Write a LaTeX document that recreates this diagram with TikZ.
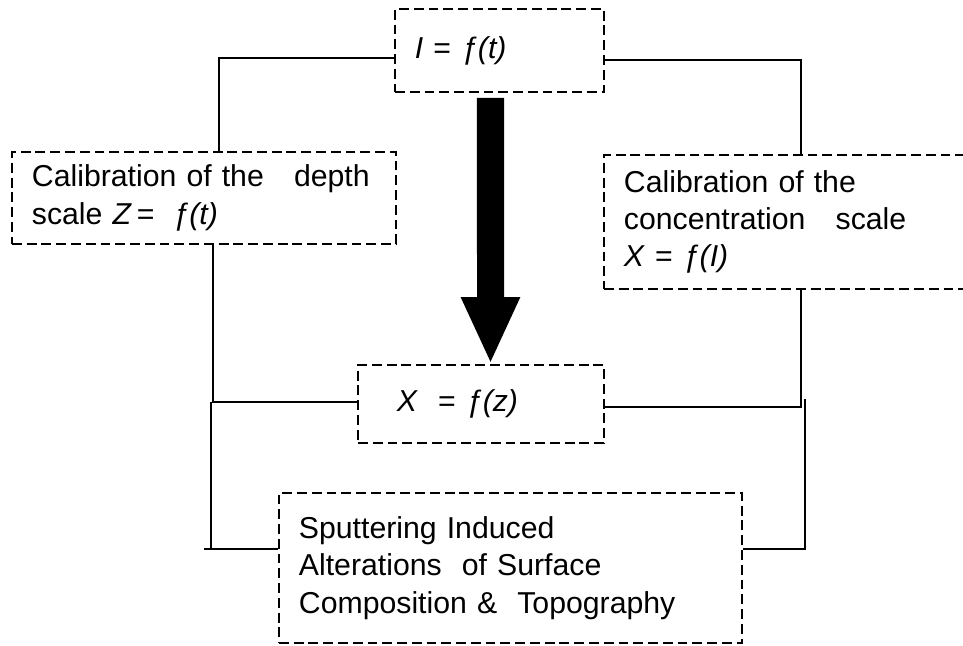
\documentclass[tikz,border=0pt]{standalone}
\usepackage{fontspec}
\setmainfont{Liberation Sans}
\usetikzlibrary{arrows.meta}
\begin{document}
\begin{tikzpicture}[x=0.025cm,y=-0.025cm,
  box/.style={draw,dash pattern=on 7pt off 3.5pt,line width=1.1pt,align=left,
    inner xsep=0.5cm,inner ysep=0pt,font=\fontsize{21.5}{26.5}\selectfont},
  link/.style={line width=1.1pt},
  bigarrow/.style={line width=0.675cm,-{Triangle[length=1.675cm,width=1.35cm]}}]
\clip (0,0) rectangle (963,646);
%boxes
\node[box,text width=4.225cm,minimum height=2.075cm] (rate) at (499.5,50.5) {\textit{I} = \textit{ƒ(t)}};
\node[box,text width=8.6cm,minimum height=2.3cm] (depth) at (204,198) {Calibration of the\ \ \ depth\\scale \textit{Z}\,=\hspace{0.45cm}\textit{ƒ(t)}};
\node[box,text width=8.85cm,minimum height=3.35cm] (conc) at (801,222) {Calibration of the\\concentration\ \ \ scale\\\textit{X} = \textit{ƒ(I)}};
\node[box,text width=5.15cm,minimum height=1.95cm] (prof) at (481,404) {\hspace*{0.475cm}\textit{X}\ \ = \textit{ƒ(z)}};
\node[box,text width=10.575cm,minimum height=3.75cm] (sput) at (510.5,568) {Sputtering Induced\\Alterations\ \ of Surface\\Composition \&\ \ Topography};
%links
\draw[link] ([yshift=-0.19cm]rate.west) -| ([xshift=0.375cm]depth.north);
\draw[link] ([yshift=-0.24cm]rate.east) -| (conc.north);
\draw[link] ([xshift=0.225cm]depth.south) |- ([yshift=0.05cm]prof.west);
\draw[link] (conc.south) |- ([yshift=-0.07cm]prof.east);
\coordinate (lfork) at (211,402);
\coordinate (rfork) at (805,399);
\draw[link] ([yshift=0.475cm]sput.west) -- ++(-74,0) coordinate (lend);
\draw[link] (lfork) -- (lfork |- lend);
\draw[link] ([yshift=0.475cm]sput.east) -| (rfork);
%arrow
\draw[bigarrow] ([xshift=-0.225cm,yshift=-0.125cm]rate.south) -- ([xshift=0.2375cm]prof.north);
\end{tikzpicture}
\end{document}
